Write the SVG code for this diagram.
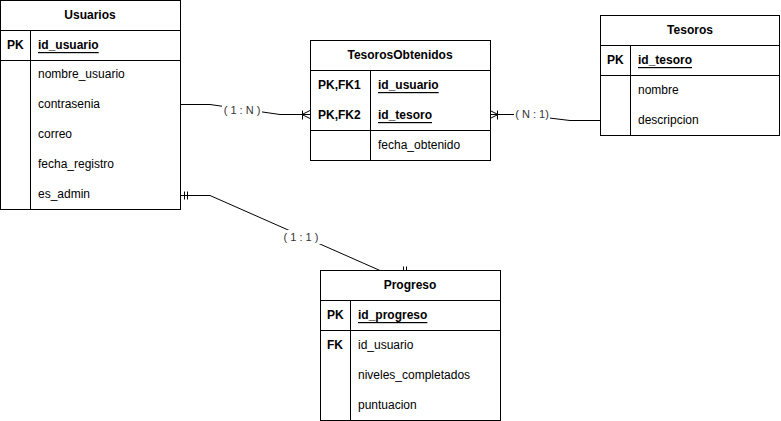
<svg xmlns="http://www.w3.org/2000/svg" width="781" height="421" viewBox="0 0 781 421">
<style>
.box{fill:#fff;stroke:#000;stroke-width:1}
.ln{stroke:#000;stroke-width:1;fill:none}
text{font-family:"Liberation Sans",Arial,sans-serif;font-size:12px;fill:#000;dominant-baseline:central}
.h{font-weight:bold;text-anchor:middle}
.k{font-weight:bold}
.u{font-weight:bold;text-decoration:underline}
.lbl{font-size:11px;fill:#333;text-anchor:middle}
</style>
<rect width="781" height="421" fill="#fff"/>
<g id="connectors">
<path class="ln" d="M180.5 104.5 H210 L280 114.5 H310"/>
<path class="ln" d="M302.5 110.5 V119.5 M302 114.5 L310 110.5 M302 114.5 L310 118.5"/>
<rect x="222" y="103" width="40" height="14" fill="#fff"/>
<text class="lbl" x="242" y="110">( 1 : N )</text>
<path class="ln" d="M490 114.5 H520 L570 120.5 H600"/>
<path class="ln" d="M497.5 110.5 V119.5 M498 114.5 L490 110.5 M498 114.5 L490 118.5"/>
<rect x="514" y="107" width="36" height="14" fill="#fff"/>
<text class="lbl" x="532" y="114">( N : 1)</text>
<path class="ln" d="M180.5 195.5 H210 L380 270.5 H410"/>
<path class="ln" d="M184.5 191.5 V199.5 M187.5 191.5 V199.5 M403.5 266.5 V274.5 M406.5 266.5 V274.5"/>
<rect x="281" y="230" width="40" height="14" fill="#fff"/>
<text class="lbl" x="301" y="237">( 1 : 1 )</text>
</g>
<g id="Usuarios">
<rect class="box" x="0.5" y="0.5" width="180" height="209"/>
<path class="ln" d="M0.5 30.5 H180.5 M0.5 60.5 H180.5 M30.5 30.5 V209.5"/>
<text class="h" x="90" y="15">Usuarios</text>
<text class="k" x="7" y="45">PK</text>
<text class="u" x="38" y="45">id_usuario</text>
<text x="38" y="74">nombre_usuario</text>
<text x="38" y="104">contrasenia</text>
<text x="38" y="134">correo</text>
<text x="38" y="164">fecha_registro</text>
<text x="38" y="194">es_admin</text>
</g>
<g id="TesorosObtenidos">
<rect class="box" x="310.5" y="40.5" width="180" height="120"/>
<path class="ln" d="M310.5 70.5 H490.5 M310.5 130.5 H490.5 M370.5 70.5 V160.5"/>
<text class="h" x="400" y="55">TesorosObtenidos</text>
<text class="k" x="318" y="85">PK,FK1</text>
<text class="u" x="378" y="85">id_usuario</text>
<text class="k" x="318" y="115">PK,FK2</text>
<text class="u" x="378" y="115">id_tesoro</text>
<text x="378" y="145">fecha_obtenido</text>
</g>
<g id="Tesoros">
<rect class="box" x="600.5" y="15.5" width="179" height="120"/>
<path class="ln" d="M600.5 45.5 H779.5 M600.5 75.5 H779.5 M630.5 45.5 V135.5"/>
<text class="h" x="690" y="30">Tesoros</text>
<text class="k" x="607" y="60">PK</text>
<text class="u" x="638" y="60">id_tesoro</text>
<text x="638" y="90">nombre</text>
<text x="638" y="120">descripcion</text>
</g>
<g id="Progreso">
<rect class="box" x="320.5" y="270.5" width="180" height="150"/>
<path class="ln" d="M320.5 300.5 H500.5 M320.5 330.5 H500.5 M350.5 300.5 V420.5"/>
<text class="h" x="410" y="285">Progreso</text>
<text class="k" x="327" y="315">PK</text>
<text class="u" x="358" y="315">id_progreso</text>
<text class="k" x="327" y="345">FK</text>
<text x="358" y="345">id_usuario</text>
<text x="358" y="375">niveles_completados</text>
<text x="358" y="405">puntuacion</text>
</g>
</svg>
